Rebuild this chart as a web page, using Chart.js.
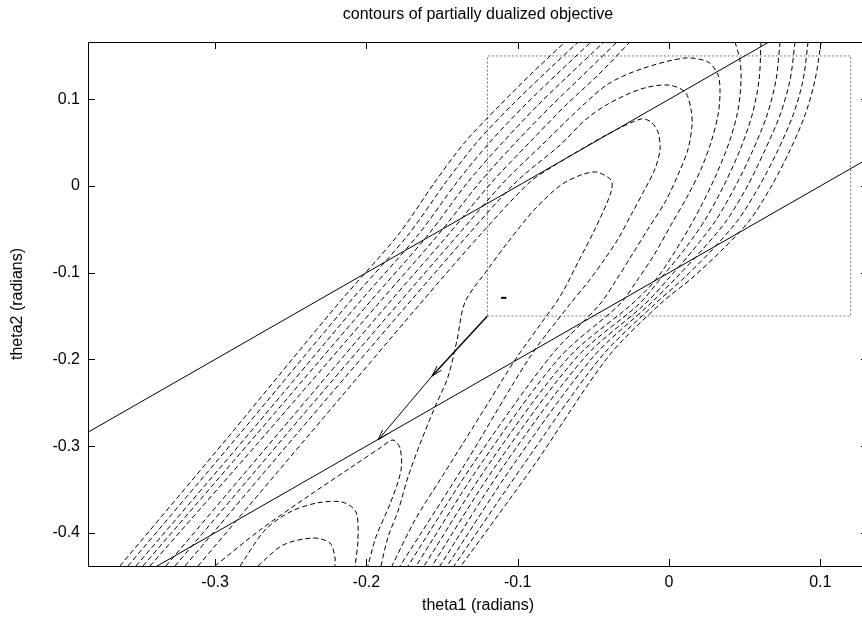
<!DOCTYPE html>
<html>
<head>
<meta charset="utf-8">
<script src="https://cdn.jsdelivr.net/npm/chart.js@4.4.1/dist/chart.umd.min.js"></script>
<style>
  html, body { margin: 0; padding: 0; background: #fff; overflow: hidden; }
  #wrap { width: 880px; height: 621px; }
</style>
</head>
<body>
<div id="wrap"><canvas id="myChart"></canvas></div>
<script>
// Rangos y marcas de los ejes (radianes)
const xMin = -0.384, xMax = 0.1315;
const yMin = -0.4383, yMax = 0.1661;
const xTicks = [-0.3, -0.2, -0.1, 0, 0.1];
const yTicks = [-0.4, -0.3, -0.2, -0.1, 0, 0.1];

// Curvas de nivel (theta1, theta2)
const loop9Left = [[-0.3629,-0.4383],[-0.2908,-0.2884],[-0.2188,-0.1361],[-0.1791,-0.0565],[-0.1547,0.0046],[-0.1348,0.0507],[-0.1117,0.0934],[-0.0919,0.1280],[-0.0687,0.1661]];
const loop9Right = [[0.1005,0.1661],[0.0965,0.1223],[0.0899,0.0819],[0.0800,0.0415],[0.0681,0.0012],[0.0535,-0.0392],[0.0350,-0.0738],[0.0152,-0.1061],[-0.0059,-0.1361],[-0.0403,-0.1972],[-0.0886,-0.3206],[-0.1375,-0.4383]];
const loop8Left = [[-0.3576,-0.4383],[-0.2849,-0.2884],[-0.2122,-0.1361],[-0.1725,-0.0565],[-0.1474,0.0046],[-0.1269,0.0507],[-0.1038,0.0934],[-0.0833,0.1280],[-0.0601,0.1661]];
const loop8Right = [[0.0919,0.1661],[0.0886,0.1223],[0.0820,0.0819],[0.0720,0.0415],[0.0601,0.0012],[0.0456,-0.0392],[0.0284,-0.0738],[0.0099,-0.1061],[-0.0093,-0.1361],[-0.0449,-0.1972],[-0.0958,-0.3206],[-0.1421,-0.4383]];
const loop7Left = [[-0.3523,-0.4383],[-0.2789,-0.2884],[-0.2056,-0.1361],[-0.1659,-0.0565],[-0.1401,0.0046],[-0.1183,0.0507],[-0.0952,0.0934],[-0.0747,0.1280],[-0.0516,0.1661]];
const loop7Right = [[0.0833,0.1661],[0.0800,0.1223],[0.0734,0.0819],[0.0634,0.0415],[0.0522,0.0012],[0.0383,-0.0392],[0.0218,-0.0738],[0.0046,-0.1061],[-0.0126,-0.1361],[-0.0502,-0.1972],[-0.1025,-0.3206],[-0.1467,-0.4383]];
const loop6Left = [[-0.3477,-0.4383],[-0.2736,-0.2884],[-0.1989,-0.1361],[-0.1593,-0.0565],[-0.1329,0.0046],[-0.1097,0.0507],[-0.0866,0.0934],[-0.0661,0.1280],[-0.0430,0.1661]];
const loop6Right = [[0.0734,0.1661],[0.0707,0.1223],[0.0648,0.0819],[0.0555,0.0415],[0.0443,0.0012],[0.0311,-0.0392],[0.0159,-0.0738],[0.0,-0.1061],[-0.0159,-0.1361],[-0.0555,-0.1972],[-0.1084,-0.3206],[-0.1514,-0.4383]];
const loop5Left = [[-0.3430,-0.4383],[-0.2677,-0.2884],[-0.1923,-0.1361],[-0.1527,-0.0565],[-0.1249,0.0046],[-0.1011,0.0507],[-0.0773,0.0934],[-0.0568,0.1280],[-0.0344,0.1661]];
const loop5Right = [[0.0608,0.1661],[0.0595,0.1223],[0.0549,0.0819],[0.0469,0.0415],[0.0364,0.0012],[0.0238,-0.0392],[0.0099,-0.0738],[-0.0053,-0.1061],[-0.0198,-0.1361],[-0.0608,-0.1972],[-0.1137,-0.3206],[-0.1567,-0.4383]];
const loop4Left = [[-0.3325,-0.4383],[-0.2597,-0.2884],[-0.1857,-0.1361],[-0.1461,-0.0565],[-0.1170,0.0046],[-0.0919,0.0507],[-0.0681,0.0934],[-0.0469,0.1280],[-0.0258,0.1661]];
const loop4Right = [[0.0436,0.1661],[0.0469,0.1453],[0.0476,0.1223],[0.0456,0.0877],[0.0403,0.0531],[0.0311,0.0127],[0.0205,-0.0254],[0.0086,-0.0623],[-0.0079,-0.1061],[-0.0245,-0.1361],[-0.0661,-0.1972],[-0.1190,-0.3206],[-0.1619,-0.4383]];
const loop3 = [[-0.3265,-0.4383],[-0.2538,-0.2884],[-0.1791,-0.1361],[-0.1395,-0.0565],[-0.1091,0.0046],[-0.0820,0.0507],[-0.0588,0.0900],[-0.0403,0.1176],[-0.0185,0.1349],[0.0106,0.1476],[0.0258,0.1430],[0.0324,0.1280],[0.0337,0.1084],[0.0324,0.0819],[0.0278,0.0507],[0.0212,0.0196],[0.0126,-0.0104],[0.0013,-0.0450],[-0.0099,-0.0796],[-0.0218,-0.1107],[-0.0324,-0.1361],[-0.0720,-0.1972],[-0.1243,-0.3206],[-0.1672,-0.4383]];
const loop2 = [[-0.3199,-0.4383],[-0.2472,-0.2884],[-0.1725,-0.1361],[-0.1329,-0.0565],[-0.1011,0.0046],[-0.0720,0.0473],[-0.0555,0.0761],[-0.0403,0.0946],[-0.0185,0.1119],[-0.0007,0.1165],[0.0106,0.1084],[0.0145,0.0888],[0.0152,0.0704],[0.0126,0.0427],[0.0059,0.0127],[-0.0026,-0.0185],[-0.0139,-0.0496],[-0.0245,-0.0796],[-0.0357,-0.1107],[-0.0456,-0.1361],[-0.0787,-0.1972],[-0.1296,-0.3206],[-0.1725,-0.4383]];
const loop1 = [[-0.3113,-0.4383],[-0.2386,-0.2884],[-0.1646,-0.1361],[-0.1249,-0.0565],[-0.0919,0.0046],[-0.0753,0.0242],[-0.0588,0.0415],[-0.0403,0.0600],[-0.0185,0.0773],[-0.0119,0.0738],[-0.0073,0.0623],[-0.0059,0.0427],[-0.0093,0.0196],[-0.0159,-0.0035],[-0.0251,-0.0334],[-0.0337,-0.0611],[-0.0430,-0.0854],[-0.0535,-0.1107],[-0.0654,-0.1361],[-0.0919,-0.1972],[-0.1348,-0.3206],[-0.1778,-0.4383]];
const innerLoop = [[-0.1904,-0.4383],[-0.1857,-0.4048],[-0.1791,-0.3749],[-0.1725,-0.3356],[-0.1646,-0.2976],[-0.1547,-0.2549],[-0.1461,-0.2203],[-0.1401,-0.1776],[-0.1348,-0.1338],[-0.1196,-0.0957],[-0.1064,-0.0646],[-0.0886,-0.0265],[-0.0714,0.0012],[-0.0582,0.0127],[-0.0482,0.0161],[-0.0383,0.0069],[-0.0383,-0.0069],[-0.0489,-0.0496],[-0.0601,-0.0877],[-0.0714,-0.1257],[-0.0853,-0.1603],[-0.1018,-0.2007],[-0.1183,-0.2468],[-0.1348,-0.2930],[-0.1514,-0.3391],[-0.1679,-0.3852],[-0.1831,-0.4383]];
const saddleLoop = [[-0.3001,-0.4383],[-0.2703,-0.3968],[-0.2373,-0.3564],[-0.2108,-0.3253],[-0.1910,-0.3022],[-0.1824,-0.2930],[-0.1778,-0.3022],[-0.1771,-0.3276],[-0.1844,-0.3668],[-0.1937,-0.4048],[-0.1990,-0.4383]];
const humpOuter = [[-0.2835,-0.4383],[-0.2670,-0.3968],[-0.2505,-0.3760],[-0.2327,-0.3656],[-0.2161,-0.3645],[-0.2069,-0.3760],[-0.2056,-0.4083],[-0.2075,-0.4383]];
const humpInner = [[-0.2717,-0.4383],[-0.2551,-0.4141],[-0.2353,-0.4060],[-0.2241,-0.4118],[-0.2208,-0.4279],[-0.2208,-0.4383]];
const smallMark = [[-0.1110,-0.1290],[-0.1075,-0.1290]];

// Rectas theta2 = theta1 +/- 0.1, caja y flecha
const upperLine = [[-0.5,-0.4],[0.2,0.3]];
const lowerLine = [[-0.5,-0.6],[0.2,0.1]];
const boxPath = [[-0.12,-0.15],[0.12,-0.15],[0.12,0.15],[-0.12,0.15],[-0.12,-0.15]];
const arrowPath = [[-0.12,-0.15],[-0.1566,-0.2191],[-0.1923,-0.2930]];

const fontFamily = "'Liberation Sans', Arial, sans-serif";
const fontSize = 16;

const toPts = arr => arr.map(p => ({ x: p[0], y: p[1] }));

function dashed(arr) {
  return { data: toPts(arr), showLine: true, borderColor: '#000', borderWidth: 1,
           borderDash: [5, 3], pointRadius: 0, tension: 0.3, fill: false };
}
function solid(arr, width) {
  return { data: toPts(arr), showLine: true, borderColor: '#000', borderWidth: width || 1,
           pointRadius: 0, tension: 0, fill: false };
}

const contours = [loop9Left, loop9Right, loop8Left, loop8Right, loop7Left, loop7Right,
  loop6Left, loop6Right, loop5Left, loop5Right, loop4Left, loop4Right,
  loop3, loop2, loop1, innerLoop, saddleLoop, humpOuter, humpInner];

const datasets = contours.map(dashed);
datasets.push(solid(upperLine));
datasets.push(solid(lowerLine));
datasets.push({ data: toPts(boxPath), showLine: true, borderColor: '#7a7a7a', borderWidth: 1,
  borderDash: [2, 2], pointRadius: 0, tension: 0, fill: false });
datasets.push(solid(arrowPath.slice(0, 2), 1.4));
datasets.push(solid(arrowPath.slice(1), 1));
datasets.push(solid(smallMark, 2));

// Marco, marcas hacia dentro y puntas de flecha
const framePlugin = {
  id: 'framePlugin',
  afterDatasetsDraw(chart) {
    const { ctx, chartArea: a, scales: { x, y } } = chart;
    ctx.save();
    ctx.strokeStyle = '#000';
    ctx.lineWidth = 1;
    ctx.strokeRect(a.left + 0.5, a.top + 0.5, a.right - a.left, a.bottom - a.top);
    ctx.beginPath();
    xTicks.forEach(v => {
      const px = Math.round(x.getPixelForValue(v)) + 0.5;
      ctx.moveTo(px, a.bottom); ctx.lineTo(px, a.bottom - 7);
      ctx.moveTo(px, a.top); ctx.lineTo(px, a.top + 7);
    });
    yTicks.forEach(v => {
      const py = Math.round(y.getPixelForValue(v)) + 0.5;
      ctx.moveTo(a.left, py); ctx.lineTo(a.left + 7, py);
      ctx.moveTo(a.right, py); ctx.lineTo(a.right - 7, py);
    });
    ctx.stroke();

    ctx.beginPath();
    for (let i = 1; i < arrowPath.length; i++) {
      const x0 = x.getPixelForValue(arrowPath[i - 1][0]), y0 = y.getPixelForValue(arrowPath[i - 1][1]);
      const x1 = x.getPixelForValue(arrowPath[i][0]), y1 = y.getPixelForValue(arrowPath[i][1]);
      const ang = Math.atan2(y1 - y0, x1 - x0);
      [-0.28, 0.28].forEach(d => {
        ctx.moveTo(x1, y1);
        ctx.lineTo(x1 - 11 * Math.cos(ang + d), y1 - 11 * Math.sin(ang + d));
      });
    }
    ctx.stroke();
    ctx.restore();
  }
};

const ctx = document.getElementById('myChart');
new Chart(ctx, {
  type: 'scatter',
  data: { datasets },
  options: {
    responsive: true,
    maintainAspectRatio: false,
    animation: false,
    layout: { padding: { left: 0, right: 12, top: 0, bottom: 0 } },
    plugins: {
      legend: { display: false },
      tooltip: { enabled: false },
      title: {
        display: true,
        fullSize: false,
        text: 'contours of partially dualized objective',
        color: '#000',
        font: { family: fontFamily, size: fontSize, weight: 'normal' },
        padding: { top: 5.4, bottom: 17.4 }
      }
    },
    scales: {
      x: {
        type: 'linear',
        min: xMin, max: xMax,
        afterBuildTicks: s => { s.ticks = xTicks.map(v => ({ value: v })); },
        afterFit: s => { s.height = 55; },
        grid: { display: false, drawTicks: false },
        border: { display: false },
        ticks: { color: '#000', padding: 7, font: { family: fontFamily, size: fontSize },
                 callback: v => String(Math.round(v * 10) / 10) },
        title: { display: true, text: 'theta1 (radians)', color: '#000',
                 font: { family: fontFamily, size: fontSize }, padding: { top: 0, bottom: 5.4 } }
      },
      y: {
        type: 'linear',
        min: yMin, max: yMax,
        afterBuildTicks: s => { s.ticks = yTicks.map(v => ({ value: v })); },
        afterFit: s => { s.width = 88; },
        grid: { display: false, drawTicks: false },
        border: { display: false },
        ticks: { color: '#000', padding: 8, font: { family: fontFamily, size: fontSize },
                 callback: v => String(Math.round(v * 10) / 10) },
        title: { display: true, text: 'theta2 (radians)', color: '#000',
                 font: { family: fontFamily, size: fontSize }, padding: { top: 8.4, bottom: 0 } }
      }
    }
  },
  plugins: [framePlugin]
});
</script>
</body>
</html>
